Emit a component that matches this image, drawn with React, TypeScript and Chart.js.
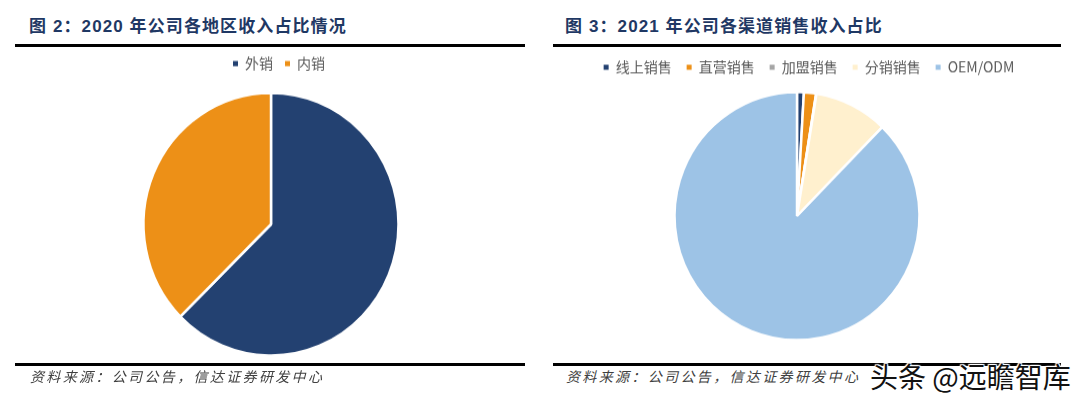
import { useEffect, useRef } from 'react';
import Chart from 'chart.js/auto';

// 图 2
const regionLabels = ['外销', '内销'];
const regionValues = [62.6, 37.4];
const regionColors = ['#234171', '#ED9017'];

// 图 3
const channelLabels = ['线上销售', '直营销售', '加盟销售', '分销销售', 'OEM/ODM'];
const channelValues = [0.9, 1.6, 0.05, 9.7, 87.75];
const channelColors = ['#234171', '#ED9017', '#A5A5A5', '#FFF0CE', '#9DC3E6'];

const sourceText = '资料来源：公司公告，信达证券研发中心';
const titleFont = '"Liberation Sans", "Noto Sans CJK SC", sans-serif';

function Pie(props: {
  labels: string[];
  values: number[];
  colors: string[];
  left: number;
  top: number;
  width: number;
  height: number;
  radius: number;
  scaleY: number;
  legendGap: number;
  legendShift: number;
}) {
  const ref = useRef<HTMLCanvasElement>(null);

  useEffect(() => {
    if (!ref.current) return;
    const chart = new Chart(ref.current, {
      type: 'pie',
      data: {
        labels: props.labels,
        datasets: [
          {
            data: props.values,
            backgroundColor: props.colors,
            borderColor: '#ffffff',
            borderWidth: 2.5,
            radius: props.radius,
          },
        ],
      },
      options: {
        responsive: false,
        animation: false,
        layout: { padding: 0 },
        plugins: {
          tooltip: { enabled: false },
          legend: {
            position: 'top',
            labels: {
              usePointStyle: true,
              pointStyle: 'rect',
              boxWidth: 5,
              boxHeight: 5,
              padding: props.legendGap,
              color: '#595959',
              font: { size: 14, family: '"Noto Sans CJK SC", sans-serif' },
              // the slices' white border would eat the small markers
              generateLabels: (c: Chart) =>
                Chart.overrides.pie.plugins.legend.labels
                  .generateLabels(c)
                  .map((item: any) => ({ ...item, lineWidth: 0 })),
            },
          },
        },
      },
      plugins: [
        {
          // legend is not centred over the pie in the reference
          id: 'shiftLegend',
          afterLayout: (c: any) => {
            c.legend.left += props.legendShift;
            c.legend.right += props.legendShift;
          },
        },
      ],
    });
    return () => chart.destroy();
  }, []);

  return (
    <canvas
      ref={ref}
      width={props.width}
      height={props.height}
      style={{
        position: 'absolute',
        left: props.left,
        top: props.top,
        transform: `scaleY(${props.scaleY})`,
        transformOrigin: 'top left',
      }}
    />
  );
}

function Rule(props: { left: number; top: number; width: number }) {
  return (
    <div
      style={{
        position: 'absolute',
        left: props.left,
        top: props.top,
        width: props.width,
        height: 2.5,
        background: '#000',
      }}
    />
  );
}

function Title(props: { left: number; text: string }) {
  return (
    <div
      style={{
        position: 'absolute',
        left: props.left,
        top: 16,
        fontFamily: titleFont,
        fontWeight: 700,
        fontSize: 17,
        lineHeight: '22px',
        letterSpacing: 1.1,
        whiteSpace: 'pre',
        color: '#1F3864',
      }}
    >
      {props.text}
    </div>
  );
}

function Source(props: { left: number }) {
  return (
    <div
      style={{
        position: 'absolute',
        left: props.left,
        top: 366,
        fontFamily: '"Noto Sans CJK SC", sans-serif',
        fontStyle: 'italic',
        fontSize: 14,
        lineHeight: '20px',
        letterSpacing: 2.35,
        whiteSpace: 'pre',
        color: '#404040',
      }}
    >
      {sourceText}
    </div>
  );
}

export default function App() {
  return (
    <div style={{ position: 'relative', width: 1080, height: 402, background: '#fff', overflow: 'hidden' }}>
      <style>{'body{margin:0}'}</style>
      <Title left={29} text="图 2：2020 年公司各地区收入占比情况" />
      <Title left={565} text="图 3：2021 年公司各渠道销售收入占比" />
      <Rule left={15} top={44} width={510} />
      <Rule left={553} top={44} width={508} />
      <Rule left={15} top={363} width={510} />
      <Rule left={553} top={363} width={508} />

      <Pie
        labels={regionLabels}
        values={regionValues}
        colors={regionColors}
        left={1}
        top={44}
        width={540}
        height={314}
        radius={127.5}
        scaleY={1.03}
        legendGap={12}
        legendShift={8}
      />
      <Pie
        labels={channelLabels}
        values={channelValues}
        colors={channelColors}
        left={540}
        top={45}
        width={514}
        height={299}
        radius={122.5}
        scaleY={1.012}
        legendGap={15}
        legendShift={12}
      />

      <Source left={30} />
      <Source left={566} />

      <div
        style={{
          position: 'absolute',
          left: 870,
          top: 358,
          fontFamily: '"Noto Sans CJK SC", sans-serif',
          fontSize: 28,
          lineHeight: '36px',
          whiteSpace: 'pre',
          color: '#111',
          textShadow: '0 0 2px #fff, 1px 1px 1px #fff, -1px -1px 1px #fff, 1px -1px 1px #fff, -1px 1px 1px #fff',
        }}
      >
        头条 @远瞻智库
      </div>
    </div>
  );
}
